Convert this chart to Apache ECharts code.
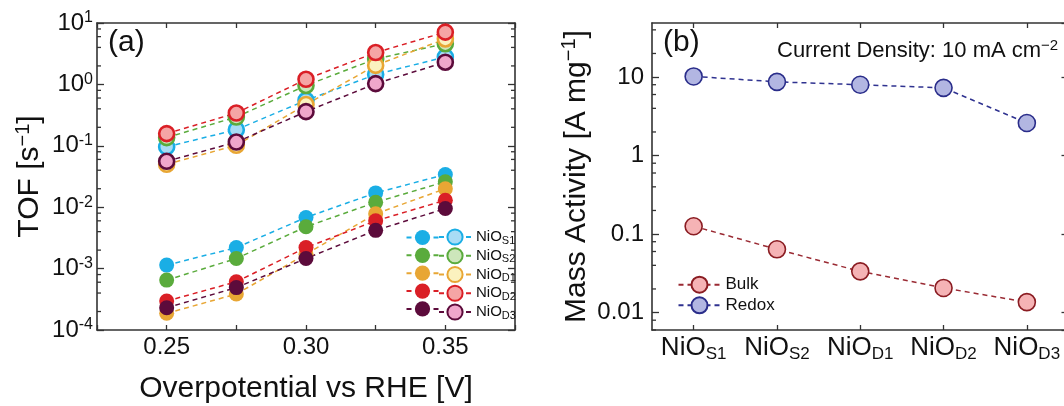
<!DOCTYPE html>
<html>
<head>
<meta charset="utf-8">
<script src="https://cdn.jsdelivr.net/npm/echarts@6/dist/echarts.min.js"></script>
<style>
html,body{margin:0;padding:0;background:#fff;}
#chart{width:1064px;height:406px;}
</style>
</head>
<body>
<div id="chart"></div>
<script>
// ---------------- DATA ----------------
// Panel (a): TOF vs overpotential
const overpotential = [0.25, 0.275, 0.30, 0.325, 0.35];
const xTickLabels = ['0.25', '0.30', '0.35'];
const tofBulkS1 = [1.14e-3, 2.2e-3, 6.8e-3, 0.0171, 0.034];
const tofBulkS2 = [6.5e-4, 1.46e-3, 4.8e-3, 0.0120, 0.026];
const tofBulkD1 = [1.87e-4, 3.85e-4, 1.72e-3, 7.8e-3, 0.020];
const tofBulkD2 = [2.96e-4, 6.1e-4, 2.2e-3, 6.0e-3, 0.013];
const tofBulkD3 = [2.3e-4, 4.9e-4, 1.46e-3, 4.2e-3, 0.0095];
const tofRedoxS1 = [0.096, 0.183, 0.55, 1.45, 2.8];
const tofRedoxS2 = [0.136, 0.294, 0.96, 2.6, 4.6];
const tofRedoxD1 = [0.050, 0.102, 0.47, 2.04, 5.5];
const tofRedoxD2 = [0.158, 0.342, 1.21, 3.3, 7.1];
const tofRedoxD3 = [0.056, 0.115, 0.36, 1.03, 2.3];
const sampleCodes = ['S1', 'S2', 'D1', 'D2', 'D3'];
// Panel (b): mass activity
const massBulk = [0.126, 0.064, 0.0335, 0.0206, 0.0136];
const massRedox = [10.2, 8.7, 8.0, 7.3, 2.6];
const massTickLabels = ['0.01', '0.1', '1', '10'];
// minor tick mantissas (log axes)
const minorMantissas = [2, 4, 6, 8];
const tofDecades = [-4, -3, -2, -1, 0];
const massDecades = [-3, -2, -1, 0, 1];

// ---------------- STYLE ----------------
const FONT = 'Liberation Sans, Arial, Helvetica, sans-serif';
const AX = '#333333';
const TXT = '#111111';
const colors = {
  S1: {line: '#1aaee5', fill: '#a8dcf5'},
  S2: {line: '#5aab3c', fill: '#cde6bb'},
  D1: {line: '#e8a634', fill: '#fbf2bf'},
  D2: {line: '#da1f26', fill: '#f5a5a5'},
  D3: {line: '#5c0b3b', fill: '#f0a6cb'}
};

const chart = echarts.init(document.getElementById('chart'), null, {renderer: 'canvas'});

function pairs(xs, ys) { return xs.map((x, i) => [x, ys[i]]); }

function tofSeries(name, code, ys, open) {
  const c = colors[code];
  return {
    name: name, type: 'line', xAxisIndex: 0, yAxisIndex: 0,
    data: pairs(overpotential, ys),
    symbol: 'circle', symbolSize: 15,
    lineStyle: {color: c.line, width: 1.5, type: [5, 4]},
    itemStyle: open ? {color: c.fill, borderColor: c.line, borderWidth: 2.6}
                    : {color: c.line, borderColor: c.line, borderWidth: 0},
    emphasis: {disabled: true},
    animation: false
  };
}

const bulkArrays = {S1: tofBulkS1, S2: tofBulkS2, D1: tofBulkD1, D2: tofBulkD2, D3: tofBulkD3};
const redoxArrays = {S1: tofRedoxS1, S2: tofRedoxS2, D1: tofRedoxD1, D2: tofRedoxD2, D3: tofRedoxD3};

const seriesList = [];
['S1', 'S2', 'D1', 'D2', 'D3'].forEach(k => seriesList.push(tofSeries('bulk' + k, k, bulkArrays[k], false)));
['S1', 'S2', 'D1', 'D3', 'D2'].forEach(k => seriesList.push(tofSeries('NiO' + k, k, redoxArrays[k], true)));

seriesList.push({
  name: 'Bulk', type: 'line', xAxisIndex: 2, yAxisIndex: 2,
  data: massBulk, symbol: 'circle', symbolSize: 17,
  lineStyle: {color: '#9a2a33', width: 1.5, type: [5, 4]},
  itemStyle: {color: '#f5b3b5', borderColor: '#8a1c22', borderWidth: 1.6},
  emphasis: {disabled: true}, animation: false
});
seriesList.push({
  name: 'Redox', type: 'line', xAxisIndex: 2, yAxisIndex: 2,
  data: massRedox, symbol: 'circle', symbolSize: 17,
  lineStyle: {color: '#2f3290', width: 1.5, type: [5, 4]},
  itemStyle: {color: '#b2b6e2', borderColor: '#2a2d8a', borderWidth: 1.6},
  emphasis: {disabled: true}, animation: false
});

// minor ticks via custom series (log-spaced, drawn through the axis scale)
function minorTickSeries(xIdx, yIdx, xAny, decades) {
  const vals = [];
  decades.forEach(d => minorMantissas.forEach(m => vals.push([xAny, m * Math.pow(10, d)])));
  return {
    type: 'custom', xAxisIndex: xIdx, yAxisIndex: yIdx, silent: true, animation: false,
    clip: false, z: 5,
    data: vals,
    renderItem: function (params, api) {
      const cs = params.coordSys;
      const y = api.coord([api.value(0), api.value(1)])[1];
      if (y < cs.y - 0.5 || y > cs.y + cs.height + 0.5) return null;
      const st = {stroke: AX, lineWidth: 1.3};
      return {type: 'group', children: [
        {type: 'line', shape: {x1: cs.x, y1: y, x2: cs.x + 4, y2: y}, style: st},
        {type: 'line', shape: {x1: cs.x + cs.width, y1: y, x2: cs.x + cs.width - 4, y2: y}, style: st}
      ]};
    }
  };
}
seriesList.push(minorTickSeries(0, 0, 0.3, tofDecades));
seriesList.push(minorTickSeries(2, 2, 0, massDecades));

const axisLine = {show: true, lineStyle: {color: AX, width: 1.6}};
const tickIn = len => ({show: true, inside: true, length: len, lineStyle: {color: AX, width: 1.3}});

function tofLabel(v) {
  const e = Math.round(Math.log10(v));
  return '10{sup|' + (e < 0 ? '-' + (-e) : String(e)) + '}';
}
function massLabel(v) {
  const l = Math.log10(v);
  const e = Math.round(l);
  if (Math.abs(l - e) > 1e-6) return '';
  const idx = e + 2;
  return massTickLabels[idx] !== undefined ? massTickLabels[idx] : '';
}
function catLabel(code) { return 'NiO{sub|' + code + '}'; }

const option = {
  backgroundColor: '#ffffff',
  animation: false,
  grid: [
    {left: 97, top: 23, width: 418, height: 307, containLabel: false, outerBoundsMode: 'none'},
    {left: 652, top: 23, width: 416.5, height: 307, containLabel: false, outerBoundsMode: 'none'}
  ],
  xAxis: [
    {
      gridIndex: 0, type: 'value', position: 'bottom', min: 0.225, max: 0.375, interval: 0.025,
      axisLine: axisLine, axisTick: tickIn(5), splitLine: {show: false},
      axisLabel: {
        margin: 5, color: TXT, fontSize: 24, fontFamily: FONT,
        formatter: v => { const s = v.toFixed(2); return xTickLabels.indexOf(s) >= 0 ? s : ''; }
      },
      name: 'Overpotential vs RHE [V]', nameLocation: 'middle', nameGap: 44,
      nameTextStyle: {fontSize: 30, color: TXT, fontFamily: FONT}
    },
    {
      gridIndex: 0, type: 'value', position: 'top', min: 0.225, max: 0.375, interval: 0.025,
      axisLine: axisLine, axisTick: tickIn(5), splitLine: {show: false}, axisLabel: {show: false}
    },
    {
      gridIndex: 1, type: 'category', position: 'bottom', data: sampleCodes, boundaryGap: true,
      axisLine: axisLine, axisTick: Object.assign(tickIn(5), {alignWithLabel: true}), splitLine: {show: false},
      axisLabel: {
        interval: 0, hideOverlap: false,
        margin: 3, color: TXT, fontSize: 26, fontFamily: FONT, formatter: catLabel,
        rich: {
          sub: {fontSize: 17, lineHeight: 13, verticalAlign: 'bottom', color: TXT, fontFamily: FONT}
        },
        lineHeight: 30
      }
    },
    {
      gridIndex: 1, type: 'category', position: 'top', data: sampleCodes, boundaryGap: true,
      axisLine: axisLine, axisTick: Object.assign(tickIn(5), {alignWithLabel: true, interval: 0}), splitLine: {show: false},
      axisLabel: {show: false}
    }
  ],
  yAxis: [
    {
      gridIndex: 0, type: 'log', logBase: 10, position: 'left', min: 1e-4, max: 10, splitNumber: 5,
      axisLine: axisLine, axisTick: tickIn(7), splitLine: {show: false}, minorTick: {show: false},
      axisLabel: {
        margin: 4, color: TXT, fontSize: 24, fontFamily: FONT, formatter: tofLabel, lineHeight: 26,
        rich: {sup: {fontSize: 16, lineHeight: 16, verticalAlign: 'top', color: TXT, fontFamily: FONT}}
      },
      name: 'TOF [s{sup|−1}]', nameLocation: 'middle', nameGap: 50, nameRotate: 90,
      nameTextStyle: {
        fontSize: 30, color: TXT, fontFamily: FONT, lineHeight: 34,
        rich: {sup: {fontSize: 20, lineHeight: 20, verticalAlign: 'top', color: TXT, fontFamily: FONT}}
      }
    },
    {
      gridIndex: 0, type: 'log', logBase: 10, position: 'right', min: 1e-4, max: 10, splitNumber: 5,
      axisLine: axisLine, axisTick: tickIn(7), splitLine: {show: false}, axisLabel: {show: false}
    },
    {
      gridIndex: 1, type: 'log', logBase: 10, position: 'left', min: 0.006, max: 48.9, splitNumber: 4,
      axisLine: axisLine, axisTick: tickIn(7), splitLine: {show: false},
      axisLabel: {
        margin: 8, color: TXT, fontSize: 24, fontFamily: FONT, formatter: massLabel,
        showMinLabel: false, showMaxLabel: false
      },
      name: 'Mass Activity [A mg{sup|−1}]', nameLocation: 'middle', nameGap: 55, nameRotate: 90,
      nameTextStyle: {
        fontSize: 30, color: TXT, fontFamily: FONT, lineHeight: 34,
        rich: {sup: {fontSize: 20, lineHeight: 20, verticalAlign: 'top', color: TXT, fontFamily: FONT}}
      }
    },
    {
      gridIndex: 1, type: 'log', logBase: 10, position: 'right', min: 0.006, max: 48.9, splitNumber: 4,
      axisLine: axisLine, axisTick: tickIn(7), splitLine: {show: false}, axisLabel: {show: false}
    }
  ],
  legend: [
    {
      orient: 'vertical', left: 400.5, top: 223, itemWidth: 32, itemHeight: 19, itemGap: 0.75,
      data: sampleCodes.map(k => 'bulk' + k), formatter: () => '',
      textStyle: {fontSize: 15}, selectedMode: false
    },
    {
      orient: 'vertical', left: 433, top: 223, itemWidth: 32, itemHeight: 19, itemGap: 0.75,
      data: sampleCodes.map(k => 'NiO' + k), selectedMode: false,
      formatter: name => 'NiO{sub|' + name.slice(3) + '}',
      textStyle: {
        fontSize: 15, color: TXT, fontFamily: FONT, lineHeight: 18,
        rich: {sub: {fontSize: 11, lineHeight: 10, verticalAlign: 'bottom', color: TXT, fontFamily: FONT}}
      }
    },
    {
      orient: 'vertical', left: 672.5, top: 270.7, itemWidth: 42, itemHeight: 20, itemGap: 2.6,
      data: ['Bulk', 'Redox'], selectedMode: false,
      textStyle: {fontSize: 17, color: TXT, fontFamily: FONT}
    }
  ],
  graphic: [
    {type: 'text', x: 108, y: 43, style: {text: '(a)', fontSize: 30, fontFamily: FONT, fill: TXT, verticalAlign: 'middle', align: 'left'}},
    {type: 'text', x: 663, y: 43, style: {text: '(b)', fontSize: 30, fontFamily: FONT, fill: TXT, verticalAlign: 'middle', align: 'left'}},
    {type: 'text', x: 777, y: 51, style: {
      text: 'Current Density: 10 mA cm{sup|−2}', fontSize: 22, fontFamily: FONT, fill: TXT,
      verticalAlign: 'middle', align: 'left', lineHeight: 25,
      rich: {sup: {fontSize: 15, lineHeight: 15, verticalAlign: 'top', fill: TXT, fontFamily: FONT}}
    }}
  ],
  series: seriesList
};

chart.setOption(option);
</script>
</body>
</html>
